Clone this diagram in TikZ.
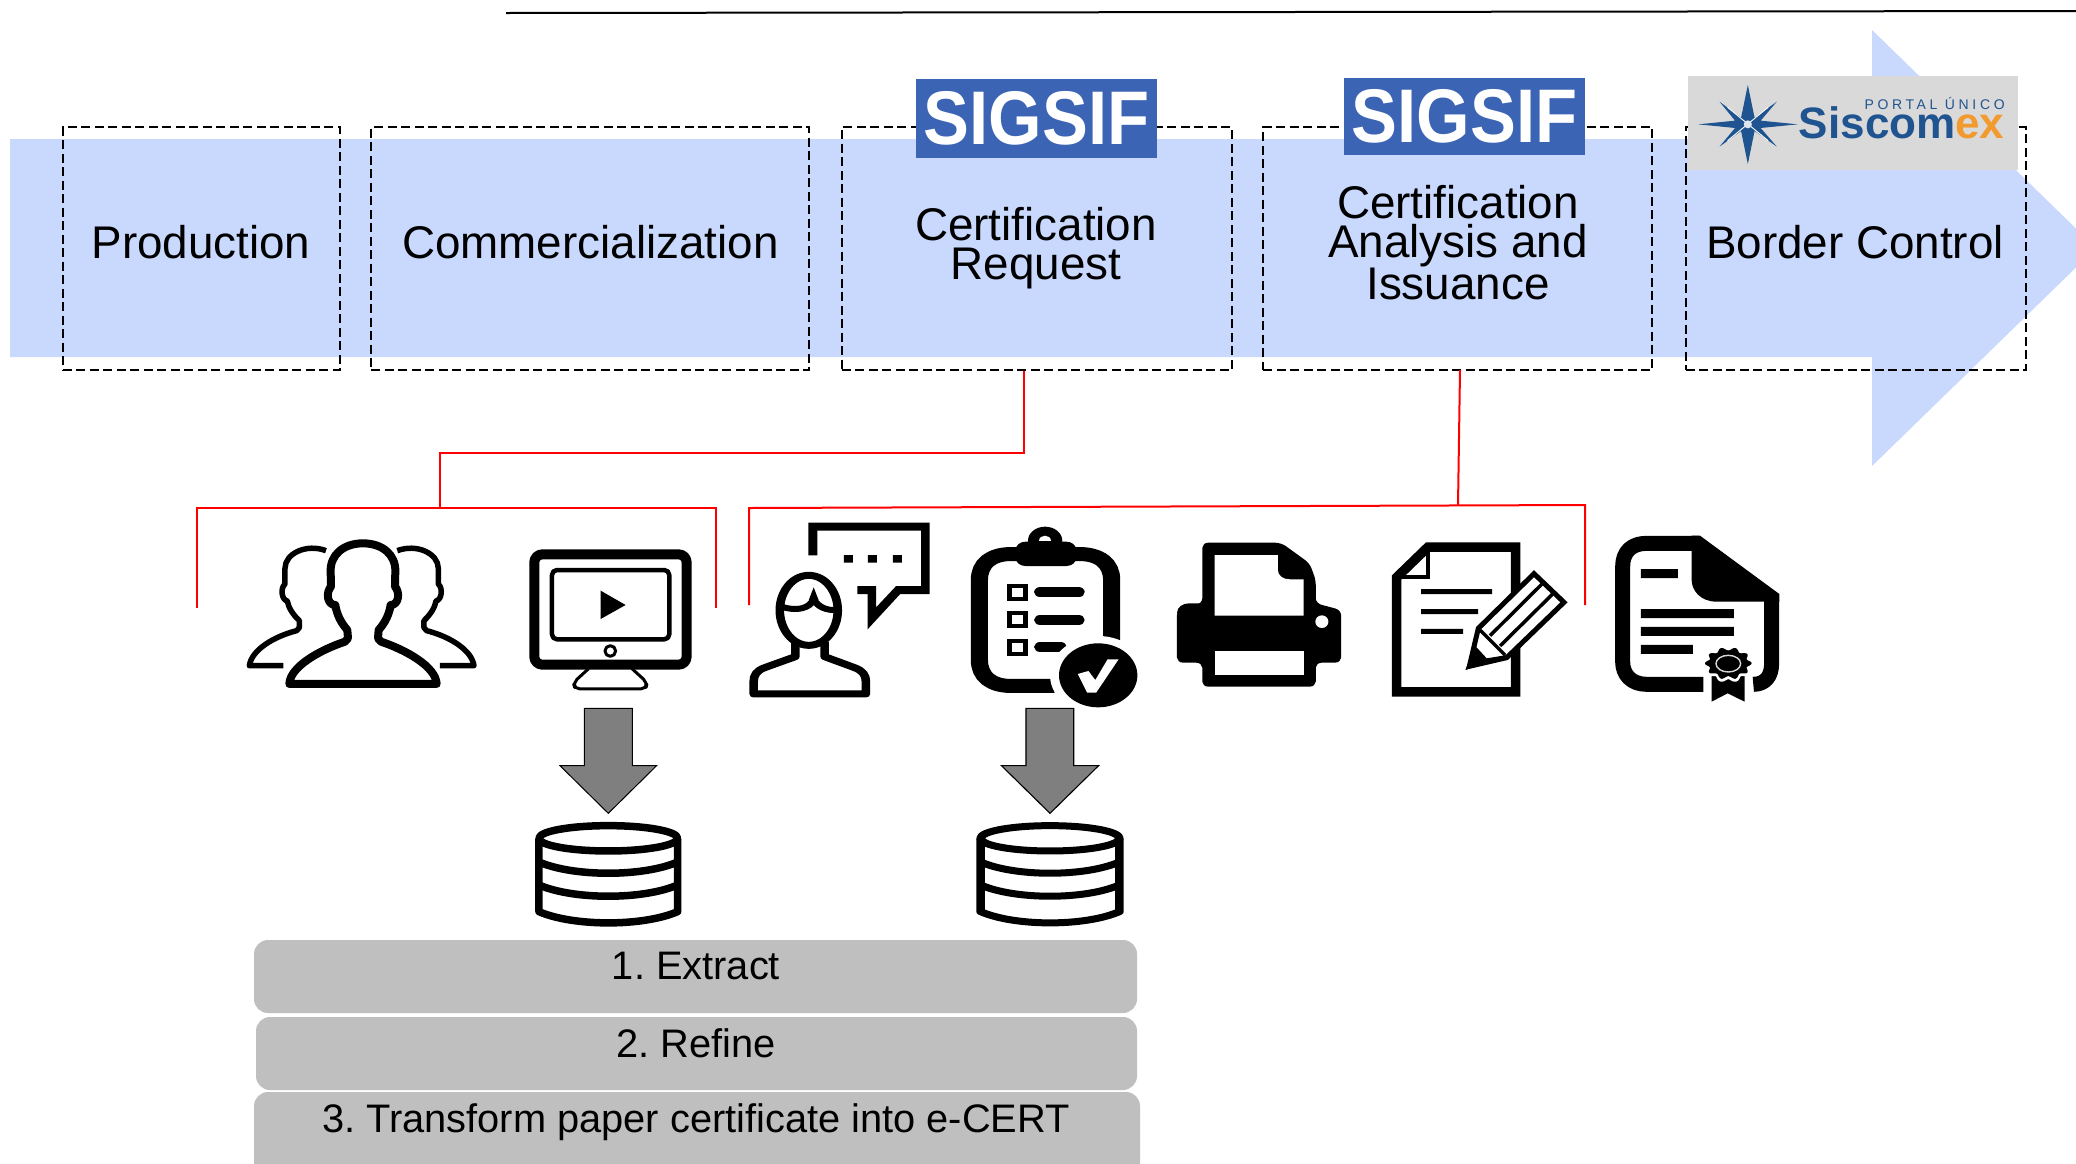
\documentclass[tikz,border=0pt]{standalone}
\usepackage{fontspec}
\setmainfont{Liberation Sans}
\definecolor{bandblue}{HTML}{C9D8FD}
\definecolor{sigblue}{HTML}{3C64B4}
\definecolor{barfill}{HTML}{BFBFBF}
\definecolor{arrowgrey}{HTML}{7F7F7F}
\definecolor{logogrey}{HTML}{D9D9D9}
\definecolor{logoblue}{HTML}{1F5490}
\definecolor{logoorange}{HTML}{F29A2E}
\tikzset{
  stagebox/.style={draw=black,line width=2pt,dash pattern=on 9pt off 4.5pt,inner sep=0pt,fill=none},
  stagetext/.style={font=\fontsize{45.8}{38.8}\selectfont,align=center,inner sep=0pt,text=black},
  sigsif/.style={fill=sigblue,text=white,font=\fontsize{76}{76}\selectfont\bfseries,inner sep=0pt},
  redline/.style={draw=red,line width=2pt},
  bar/.style={fill=barfill,rounded corners=14pt},
  bartext/.style={font=\fontsize{39.8}{40}\selectfont,inner sep=0pt,text=black},
  blockarrow/.style={fill=arrowgrey,draw=black,line width=1pt,line join=miter},
  icon/.style={draw=black,line join=round,fill=none},
}
\newcommand{\dbicon}[2]{%
  \draw[icon,line width=#2] (0,1015) ellipse [x radius=#1,y radius=38];
  \draw[icon,line width=#2] (-#1,1015) -- (-#1,1235) .. controls (-0.5*#1,1280) and (0.5*#1,1280) .. (#1,1235) -- (#1,1015);
  \draw[icon,line width=#2] (-#1,1086) .. controls (-0.5*#1,1131) and (0.5*#1,1131) .. (#1,1086);
  \draw[icon,line width=#2] (-#1,1155) .. controls (-0.5*#1,1200) and (0.5*#1,1200) .. (#1,1155);
}
\newcommand{\sigword}{\scalebox{0.905}[1]{SIGSIF}\hspace{8pt}}
\begin{document}
\frenchspacing
\begin{tikzpicture}[x=1pt,y=-1pt]
\clip (0,0) rectangle (2076,1163);
\fill[white] (0,0) rectangle (2076,1163);
% top rule
\coordinate (ruleA) at (506,13);
\coordinate (ruleB) at (2076,11);
\draw[black,line width=2pt] (ruleA) -- (ruleB);
% band arrow
\fill[bandblue] (10,139) -- (1872,139) -- (1872,30) -- (2096,248) -- (1872,466) -- (1872,357) -- (10,357) -- cycle;
% stage boxes
\node[stagebox,minimum width=277pt,minimum height=243pt] (box1) at (201,248.5) {};
\node[stagebox,minimum width=438pt,minimum height=243pt] (box2) at (590,248.5) {};
\node[stagebox,minimum width=390pt,minimum height=243pt] (box3) at (1036.5,248.5) {};
\node[stagebox,minimum width=389pt,minimum height=243pt] (box4) at (1457.5,248.5) {};
\node[stagebox,minimum width=340pt,minimum height=243pt] (box5) at (1855.5,248.5) {};
\node[stagetext] (t1) at (201,242) {Production};
\node[stagetext] (t2) at (590.5,242) {Commercialization};
\node[stagetext] (t3) at (1036,248) {Certification\\Request};
\node[stagetext] (t4) at (1458,243) {Certification\\Analysis and\\Issuance};
\node[stagetext] (t5) at (1855,242) {Border Control};
% logos
\node[sigsif,minimum width=241pt,minimum height=79pt] (sig1) at (1036.5,118.5) {\sigword};
\node[sigsif,minimum width=241pt,minimum height=77pt] (sig2) at (1464.5,116.5) {\sigword};
\node[fill=logogrey,minimum width=330pt,minimum height=94pt,inner sep=0pt] (sisc) at (1853,123) {};
\begin{scope}[shift={(1650,20)},x=0.3373pt,y=-0.3333pt]
  \fill[logoblue] (290,195) -- (310,293) -- (376,245) -- (328,302) -- (438,313) -- (328,324) -- (376,380) -- (310,333) -- (290,432) -- (270,333) -- (206,380) -- (252,324) -- (143,313) -- (252,302) -- (206,245) -- (270,293) -- cycle;
  \draw[white,line width=0.9pt] (230,262) -- (350,362) (350,262) -- (230,362);
  \fill[white!85!logoblue] (290,313) circle [radius=12];
  \node[inner sep=0pt,anchor=base west,font=\fontsize{44}{44}\selectfont\bfseries] (siscA) at (441,355) {\textcolor{logoblue}{Siscom}\textcolor{logoorange}{ex}};
  \node[inner sep=0pt,anchor=base east,text=logoblue,font=\fontsize{14}{14}\selectfont\addfontfeature{LetterSpace=26}] (siscC) at (1052,268) {PORTAL ÚNICO};
\end{scope}
% red brackets
\coordinate (ra) at (box3.south -| 1024,0);
\coordinate (rb) at (1024,453);
\coordinate (rc) at (440,453);
\coordinate (rd) at (440,508);
\coordinate (re) at (197,508);
\coordinate (rf) at (197,608);
\coordinate (rg) at (716,508);
\coordinate (rh) at (716,608);
\draw[redline] (ra) -- (rb) -- (rc) -- (rd);
\draw[redline] (rf) -- (re) -- (rg) -- (rh);
\coordinate (sa) at (1460,370);
\coordinate (sb) at (1458,505);
\coordinate (sc) at (749,605);
\coordinate (sd) at (749,508);
\coordinate (se) at (1585,505);
\coordinate (sf) at (1585,605);
\draw[redline] (sa) -- (sb);
\draw[redline] (sc) -- (sd) -- (se) -- (sf);
% people + monitor + db
\begin{scope}[shift={(230,500)},x=0.3333pt,y=-0.3333pt]
  \draw[icon,line width=5.5pt] (160,497) -- (58,497) .. controls (65,450) and (130,410) .. (200,392) -- (208,383) -- (208,362) .. controls (185,340) and (175,320) .. (172,303) .. controls (155,300) and (150,265) .. (165,252) -- (165,205) .. controls (165,160) and (230,130) .. (288,152);
  \begin{scope}[shift={(790,0)},xscale=-1]
    \draw[icon,line width=5.5pt] (160,497) -- (58,497) .. controls (65,450) and (130,410) .. (200,392) -- (208,383) -- (208,362) .. controls (185,340) and (175,320) .. (172,303) .. controls (155,300) and (150,265) .. (165,252) -- (165,205) .. controls (165,160) and (230,130) .. (288,152);
  \end{scope}
  \draw[icon,line width=8pt,fill=white] (178,552) .. controls (180,500) and (270,450) .. (345,425) -- (354,415) -- (352,390) .. controls (330,365) and (320,340) .. (316,315) .. controls (290,315) and (288,275) .. (303,260) -- (302,215) .. controls (300,165) and (340,130) .. (399,130) .. controls (458,130) and (498,165) .. (496,215) -- (495,260) .. controls (510,275) and (508,315) .. (482,315) .. controls (478,340) and (468,365) .. (446,390) -- (444,415) -- (453,425) .. controls (528,450) and (618,500) .. (620,552) -- cycle;
  % monitor
  \draw[icon,line width=10pt,rounded corners=8pt] (913,163) rectangle (1370,494);
  \draw[icon,line width=4.5pt,rounded corners=5pt] (966,210) rectangle (1318,418);
  \fill[black] (1112,272) -- (1187,315) -- (1112,357) -- cycle;
  \draw[icon,line width=3pt] (1141,453) circle [radius=16];
  \draw[icon,line width=3pt,rounded corners=5pt] (1076,506) -- (1030,548) -- (1035,567) -- (1247,567) -- (1252,548) -- (1206,506);
  % block arrow
  \draw[blockarrow] (1063,625) -- (1207,625) -- (1207,797) -- (1280,797) -- (1135,940) -- (990,797) -- (1063,797) -- cycle;
  \begin{scope}[shift={(1135,0)}]
    \dbicon{208}{7.5pt}
  \end{scope}
\end{scope}
% speaker, clipboard, printer, db (the icons are wider than tall here)
\begin{scope}[transform canvas={xscale=1.2247},shift={(596.06,500)},x=0.3333pt,y=-0.3333pt]
  \fill[black] (192,166) -- (192,68) -- (489,68) -- (489,282) -- (417,282) -- (337,388) -- (337,282) -- (312,282) -- (312,258) -- (358,258) -- (358,322) -- (407,258) -- (468,258) -- (468,92) -- (214,92) -- (214,166) -- cycle;
  \fill[black] (279,165) rectangle (301,188) (338,165) rectangle (360,188) (399,165) rectangle (421,188);
  \draw[icon,line width=7pt] (193,331) ellipse [x radius=71,y radius=105];
  \draw[icon,line width=6pt] (126,320) .. controls (165,335) and (195,325) .. (205,298) .. controls (215,320) and (235,332) .. (262,330);
  \fill[black] (193,300) -- (205,262) -- (217,300) -- cycle;
  \draw[icon,line width=7pt] (160,425) -- (160,470) -- (85,503) .. controls (65,512) and (58,525) .. (58,545) -- (58,582) -- (333,582) -- (333,545) .. controls (333,525) and (325,512) .. (305,503) -- (232,470) -- (232,425);
  % clipboard
  \draw[icon,line width=14pt,line join=miter] (795,558) -- (690,558) .. controls (640,558) and (611,530) .. (611,480) -- (611,240) .. controls (611,190) and (640,162) .. (690,162) -- (855,162) .. controls (905,162) and (935,190) .. (935,240) -- (935,420);
  \fill[black] (772,122) circle [radius=42];
  \fill[black,rounded corners=8pt] (700,125) rectangle (848,198);
  \fill[white] (757,122) .. controls (757,102) and (787,102) .. (787,122) -- cycle;
  \foreach \yy in {250,333,415} {
    \draw[black,line width=4pt] (684,\yy+7) rectangle (723,\yy+46);
  }
  \draw[black,line width=10pt,line cap=round] (760,277) -- (854,277) (760,360) -- (854,360) (760,441) -- (810,441);
  \fill[white] (902,526) circle [radius=118];
  \fill[black] (902,526) circle [radius=96];
  \fill[white] (852,522) -- (878,513) -- (895,540) -- (925,478) -- (952,478) -- (897,578) -- (875,578) -- cycle;
  % printer
  \fill[black,rounded corners=5pt] (1157,310) -- (1157,128) -- (1350,128) -- (1420,190) -- (1435,240) -- (1435,310) -- (1497,330) -- (1497,488) -- (1435,488) -- (1435,560) -- (1157,560) -- (1157,488) -- (1095,488) -- (1095,330) -- cycle;
  \fill[black] (1125,310) -- (1157,310) -- (1157,340) -- (1095,340) .. controls (1095,320) and (1110,310) .. (1125,310) -- cycle;
  \fill[white] (1187,165) -- (1342,165) -- (1342,208) .. controls (1342,228) and (1355,238) .. (1372,238) -- (1405,238) -- (1405,347) -- (1187,347) -- cycle;
  \fill[white] (1187,452) rectangle (1405,525);
  \fill[white] (1450,365) ellipse [x radius=16,y radius=19];
  % block arrow
  \draw[blockarrow] (725,625) -- (842,625) -- (842,797) -- (903,797) -- (784,940) -- (665,797) -- (725,797) -- cycle;
  \begin{scope}[shift={(784,0)}]
    \dbicon{170}{7pt}
  \end{scope}
\end{scope}
% document + pencil, certificate
\begin{scope}[shift={(1370,490)},x=0.3333pt,y=-0.3333pt]
  \draw[icon,line width=9.5pt,line join=miter] (80,262) -- (174,171) -- (437,171) -- (437,606) -- (80,606) -- cycle;
  \draw[icon,line width=4pt,line join=miter] (174,180) -- (174,262) -- (90,262);
  \fill[black] (153,297) rectangle (366,312) (153,357) rectangle (324,372) (153,417) rectangle (279,432);
  \draw[icon,fill=white,line width=5pt,line join=miter] (492,251) -- (582,337) -- (410,503) -- (298,529) -- (325,415) -- cycle;
  \draw[icon,line width=3.5pt] (515,283) -- (360,437) (547,313) -- (390,468) (330,420) -- (405,495);
  \fill[black] (286,540) -- (316,468) -- (350,505) -- (412,495) -- cycle;
  % certificate
  \draw[icon,line width=15pt,line join=round] (1000,583) -- (830,583) .. controls (785,583) and (758,555) .. (758,515) -- (758,230) .. controls (758,185) and (785,160) .. (830,160) -- (985,160);
  \fill[black] (965,137) -- (990,137) -- (1228,312) -- (1228,335) -- (1040,335) .. controls (990,335) and (965,300) .. (965,270) -- cycle;
  \draw[icon,line width=15pt,line join=round] (1205,330) -- (1205,520) .. controls (1205,560) and (1185,583) .. (1150,583);
  \fill[black] (813,237) rectangle (924,264) (813,357) rectangle (1092,384) (813,411) rectangle (1092,438) (813,465) rectangle (969,492);
  \fill[black] (1025,550) -- (1124,550) -- (1124,635) -- (1073,610) -- (1025,635) -- cycle;
  \draw[white,line width=3pt,fill=black] plot[domain=0:360,samples=121,smooth] ({1075+(66+6*cos(10*\x))*cos(\x)},{520+(48+5*cos(10*\x))*sin(\x)}) -- cycle;
  \fill[black] plot[domain=0:360,samples=121,smooth] ({1075+(64+6*cos(10*\x))*cos(\x)},{520+(43+5*cos(10*\x))*sin(\x)}) -- cycle;
  \draw[white!85!black,line width=1.4pt] (1075,521) ellipse [x radius=37,y radius=25];
\end{scope}
% bars
\fill[bar] (254,940) rectangle (1137,1013);
\fill[bar] (256,1017) rectangle (1137,1090);
\fill[bar] (254,1092) rectangle (1140,1190);
\node[bartext] (b1) at (696,966) {1. Extract};
\node[bartext] (b2) at (696,1043) {2. Refine};
\node[bartext] (b3) at (696,1122) {3. Transform paper certificate into e-CERT};
\end{tikzpicture}
\end{document}
